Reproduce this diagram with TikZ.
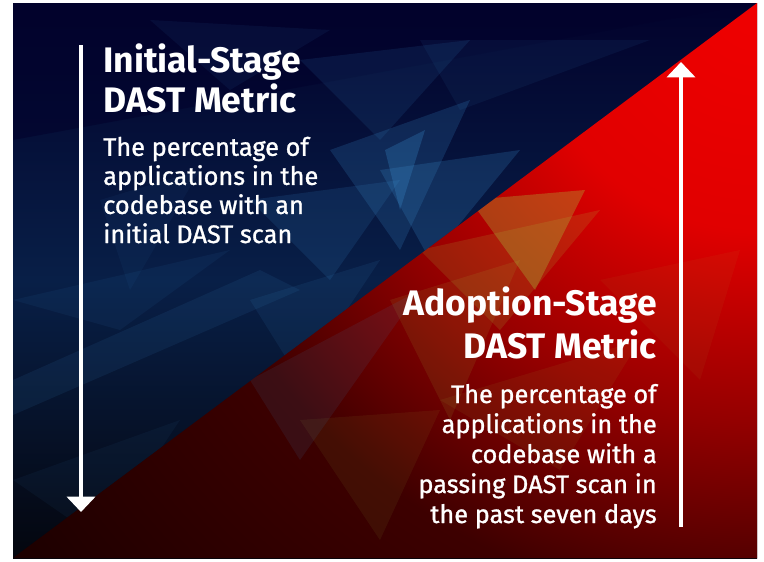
\documentclass[tikz,border=0pt]{standalone}
\usepackage{fontspec}
\setmainfont{Fira Sans}
\newfontfamily\bodyfont{Fira Sans}[FakeBold=1.1]
\usetikzlibrary{arrows.meta}
\definecolor{navytop}{HTML}{02022C}
\definecolor{navymid}{HTML}{081F47}
\definecolor{navybot}{HTML}{04060E}
\definecolor{glow}{HTML}{3A8CCC}
\definecolor{leaf}{HTML}{A8D040}
\pgfdeclareradialshading{redglow}{\pgfpoint{0bp}{0bp}}{%
  color(0bp)=(red!94!black);
  color(6bp)=(red!88!black);
  color(11bp)=(red!58!black);
  color(16bp)=(red!24!black);
  color(25bp)=(red!10!black);
  color(50bp)=(red!10!black)}
\tikzset{
  titletext/.style={text=white, inner sep=0pt, font=\bfseries\fontsize{26.6}{30}\selectfont},
  bodytext/.style={text=white, inner sep=0pt, font=\bodyfont\fontsize{19}{21.8}\selectfont},
  bigarrow/.style={white, line width=3pt, -{Triangle[width=21pt,length=11.5pt]}},
  facet/.style={fill=glow, opacity=0.16},
  leafet/.style={fill=leaf, opacity=0.2}
}
\begin{document}
\begin{tikzpicture}[x=0.75pt,y=-0.75pt]
\useasboundingbox (0,0) rectangle (764,561);
\fill[white] (0,0) rectangle (764,561);
% navy panel
\shade[top color=navytop, bottom color=navybot, middle color=navymid] (13,3) rectangle (757,558);
\fill[navytop, opacity=0.6] (13,3) -- (757,3) -- (13,140) -- cycle;
\begin{scope}
  \clip (13,3) -- (757,3) -- (13,558) -- cycle;
  \fill[facet, opacity=0.1] (13,380) -- (260,270) -- (300,290) -- (13,415) -- cycle;
  \fill[facet, opacity=0.08] (13,300) -- (230,250) -- (120,330) -- cycle;
  \fill[facet, opacity=0.2] (330,150) -- (470,100) -- (400,250) -- cycle;
  \fill[facet, opacity=0.22] (380,170) -- (520,150) -- (430,260) -- cycle;
  \fill[facet, opacity=0.28] (385,150) -- (425,130) -- (400,210) -- cycle;
  \fill[facet, opacity=0.15] (250,200) -- (400,180) -- (330,280) -- cycle;
  \fill[facet, opacity=0.12] (300,60) -- (470,40) -- (380,140) -- cycle;
  \fill[facet, opacity=0.08] (420,40) -- (650,40) -- (460,110) -- cycle;
  \fill[facet, opacity=0.08] (150,20) -- (330,30) -- (230,90) -- cycle;
  \fill[facet, opacity=0.1] (250,300) -- (380,260) -- (300,380) -- cycle;
  \fill[facet, opacity=0.06] (13,480) -- (180,420) -- (100,540) -- cycle;
  \fill[facet, opacity=0.06] (100,200) -- (200,170) -- (130,290) -- cycle;
\end{scope}
% red triangle, glowing from the top right corner
\begin{scope}
  \clip (757,3) -- (757,558) -- (13,558) -- cycle;
  \shade[shading=redglow] (757,3) circle (950);
  \fill[leafet, opacity=0.3] (470,200) -- (585,190) -- (535,290) -- cycle;
  \fill[leafet, opacity=0.15] (420,250) -- (600,210) -- (500,330) -- cycle;
  \fill[leafet, opacity=0.1] (390,300) -- (520,260) -- (450,420) -- cycle;
  \fill[leafet, opacity=0.07] (300,420) -- (440,410) -- (380,540) -- cycle;
  \fill[leafet, opacity=0.07] (440,400) -- (640,340) -- (560,470) -- cycle;
  \fill[leafet, opacity=0.05] (600,280) -- (740,250) -- (700,380) -- cycle;
  \fill[facet, opacity=0.1] (250,380) -- (420,290) -- (300,460) -- cycle;
\end{scope}
% arrows
\coordinate (ltop) at (81,45);
\coordinate (lbot) at (81,512);
\coordinate (rbot) at (681,527);
\coordinate (rtop) at (681,62);
\draw[bigarrow] (ltop) -- (lbot);
\draw[bigarrow] (rbot) -- (rtop);
% texts (base anchor = baseline of last line)
\node[titletext, anchor=base west, align=left] (t1) at (103,112) {Initial-Stage\\DAST Metric};
\node[bodytext, anchor=base west, align=left] (b1) at (103,243) {The percentage of\\applications in the\\codebase with an\\initial DAST scan};
\node[titletext, anchor=base east, align=right, font=\bfseries\fontsize{26.6}{32}\selectfont] (t2) at (657,358) {Adoption-Stage\\DAST Metric};
\node[bodytext, anchor=base east, align=right, font=\bodyfont\fontsize{19}{22.5}\selectfont] (b2) at (657,523) {The percentage of\\applications in the\\codebase with a\\passing DAST scan in\\the past seven days};
\end{tikzpicture}
\end{document}
